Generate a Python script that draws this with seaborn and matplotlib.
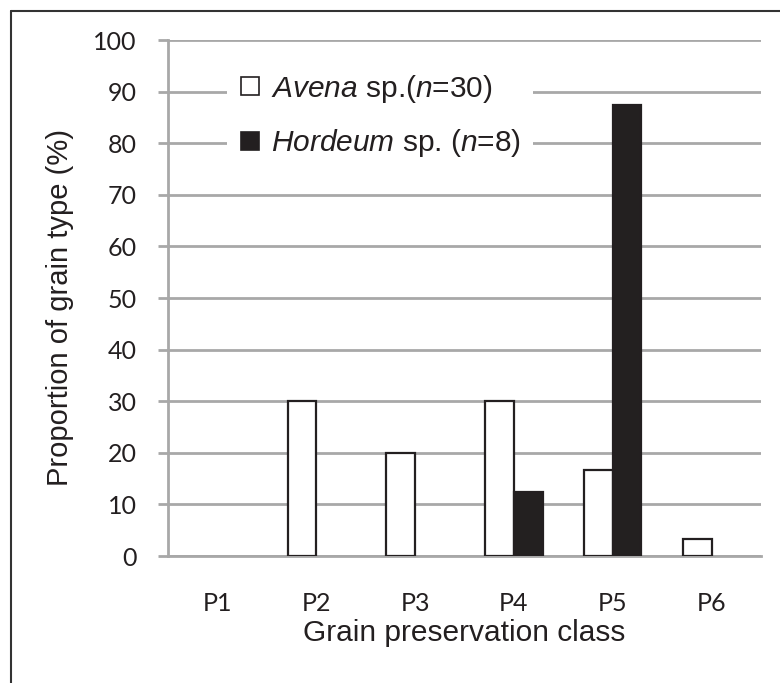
import numpy as np
import pandas as pd
import matplotlib
matplotlib.use('Agg')
import matplotlib.pyplot as plt
from matplotlib.lines import Line2D
import seaborn as sns

# data
classes = ['P1', 'P2', 'P3', 'P4', 'P5', 'P6']
avena = [0, 30, 20, 30, 16.7, 3.3]
hordeum = [0, 0, 0, 12.5, 87.5, 0]
series = ['Avena', 'Hordeum']
legend_labels = [r'$\it{Avena}$ sp.($\it{n}$=30)', r'$\it{Hordeum}$ sp. ($\it{n}$=8)']
yticks = [0, 10, 20, 30, 40, 50, 60, 70, 80, 90, 100]

df = pd.DataFrame({
    'cls': classes * 2,
    'val': avena + hordeum,
    'grain': [series[0]] * len(classes) + [series[1]] * len(classes),
})

sns.set_style('white')
plt.rcParams['font.family'] = ['Liberation Sans', 'DejaVu Sans']
plt.rcParams['mathtext.fontset'] = 'custom'
plt.rcParams['mathtext.rm'] = 'Liberation Sans'
plt.rcParams['mathtext.it'] = 'Liberation Sans:italic'

dark = '#231f20'
grid_c = '#a8a8a8'

fig = plt.figure(figsize=(7.8, 6.83), dpi=100)
ax = fig.add_axes([168 / 780, 1 - 556 / 683, (761 - 168) / 780, (556 - 40) / 683])

sns.barplot(data=df, x='cls', y='val', hue='grain', order=classes, hue_order=series,
            palette={series[0]: 'white', series[1]: dark}, edgecolor=dark,
            linewidth=1.6, width=0.58, gap=0, ax=ax, legend=False, zorder=3)

# hide empty bars so no stub sits on the zero line
for p in ax.patches:
    if p.get_height() == 0:
        p.set_visible(False)

ax.set_ylim(0, 100)
ax.set_xlim(-0.5, len(classes) - 0.5)
ax.set_yticks(yticks)
ax.yaxis.grid(True, color=grid_c, linewidth=2, zorder=0)
ax.set_axisbelow(True)
for s in ['top', 'right']:
    ax.spines[s].set_visible(False)
ax.spines['left'].set_color(grid_c)
ax.spines['left'].set_linewidth(2)
ax.spines['bottom'].set_color(grid_c)
ax.spines['bottom'].set_linewidth(2)

ax.tick_params(axis='y', length=7.5, width=2, color=grid_c, pad=15, left=True)
ax.tick_params(axis='x', length=0, pad=26)
for lab in ax.get_yticklabels() + ax.get_xticklabels():
    lab.set_fontfamily(['Lato', 'DejaVu Sans'])
    lab.set_fontsize(18)
    lab.set_color(dark)

ax.set_xlabel('Grain preservation class', fontsize=21.5, color=dark, labelpad=3)
ax.set_ylabel('Proportion of grain type (%)', fontsize=21, color=dark, labelpad=14)
ax.yaxis.label.set_y((556 - 307) / 516)

handles = [
    Line2D([], [], linestyle='none', marker='s', markersize=13,
           markerfacecolor='white', markeredgecolor=dark, markeredgewidth=1.2),
    Line2D([], [], linestyle='none', marker='s', markersize=13,
           markerfacecolor=dark, markeredgecolor=dark, markeredgewidth=1.2),
]
leg = ax.legend(handles, legend_labels, loc='upper left', bbox_to_anchor=(0.1, 0.96),
                fontsize=21.5, frameon=True, facecolor='white', edgecolor='none',
                framealpha=1, fancybox=False, handlelength=0.7, handletextpad=0.35,
                labelspacing=0.75, borderpad=0.4, borderaxespad=0)
for t in leg.get_texts():
    t.set_color(dark)

# outer frame of the figure panel
fig.add_artist(Line2D([11 / 780, 11 / 780], [0, 1 - 11 / 683], color='#333333', linewidth=1.5))
fig.add_artist(Line2D([11 / 780, 1], [1 - 11 / 683, 1 - 11 / 683], color='#333333', linewidth=1.5))

fig.savefig('out.png', dpi=100)
